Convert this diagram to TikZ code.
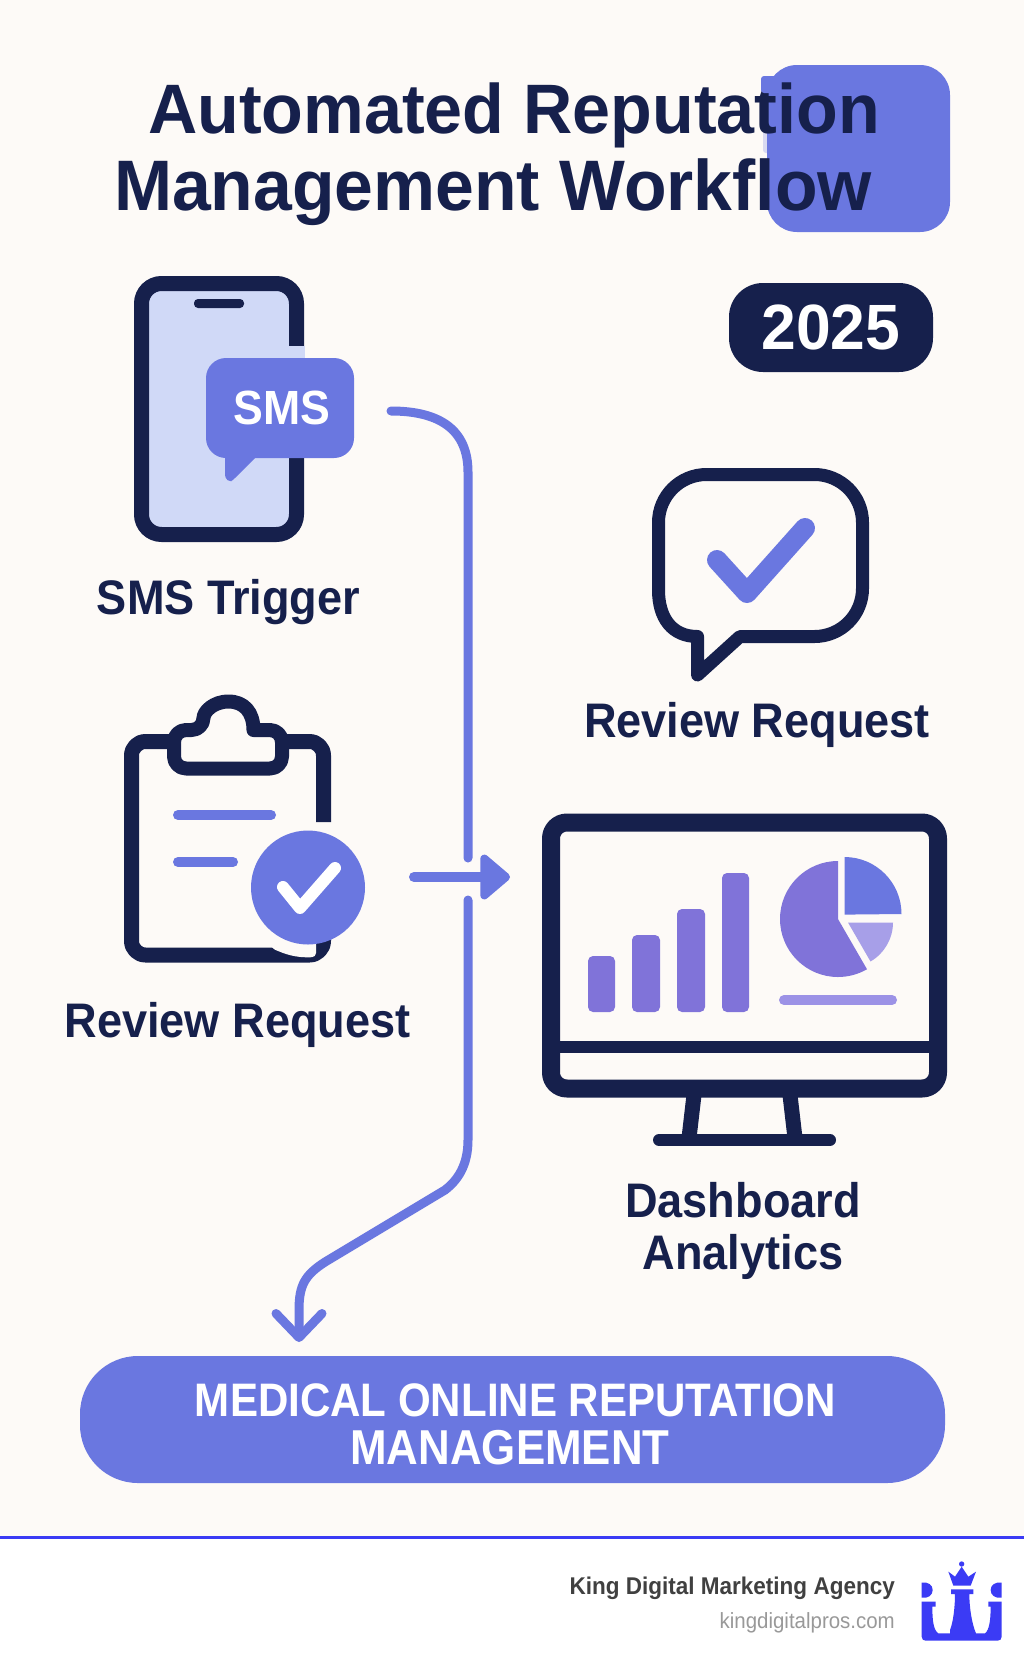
\documentclass[tikz,border=0pt]{standalone}
\usepackage{fontspec}
\setmainfont[FakeStretch=0.93]{Liberation Sans}
\newfontfamily\narrowfont[FakeStretch=0.895]{Liberation Sans}
\newfontfamily\widefont[FakeStretch=0.975]{Liberation Sans}
\usetikzlibrary{arrows.meta,positioning}
\definecolor{pagebg}{HTML}{FDFAF7}
\definecolor{navy}{HTML}{16204C}
\definecolor{accent}{HTML}{6A77E0}
\definecolor{phonefill}{HTML}{D0D9F7}
\definecolor{barcol}{HTML}{8073D9}
\definecolor{pielight}{HTML}{A79FE8}
\definecolor{underbar}{HTML}{9C92E6}
\definecolor{brand}{HTML}{3B3BF5}
\begin{document}
\begin{tikzpicture}[x=1pt,y=-1pt,
  titletext/.style={anchor=base,inner sep=0pt,text=navy,font=\widefont\fontsize{70}{84}\selectfont\bfseries},
  labeltext/.style={anchor=base,inner sep=0pt,text=navy,align=center,font=\fontsize{48.5}{52}\selectfont\bfseries},
  pilltext/.style={anchor=base,inner sep=0pt,text=white,font=\narrowfont\fontsize{47}{52}\selectfont\bfseries},
  iconline/.style={draw=navy,line width=15pt,line join=round},
  softline/.style={draw=accent,line width=10pt,line cap=round},
  flowline/.style={draw=accent,line width=9pt,line cap=round},
  tickline/.style={line cap=round,line join=round},
  bar/.style={fill=barcol,rounded corners=5pt}]
\useasboundingbox (0,0) rectangle (1024,1666);
\fill[pagebg] (0,0) rectangle (1024,1537);
\fill[white] (0,1537) rectangle (1024,1666);
\fill[brand] (0,1536) rectangle (1024,1538.5);

\fill[accent,opacity=0.25,rounded corners=3pt] (763,77) rectangle (770,153);
\fill[accent,rounded corners=30pt] (767,65) rectangle (950,232);
\node[titletext] (titleone) at (514,133) {Automated Reputation};
\node[titletext] (titletwo) at (493,210) {\fontsize{71.5}{84}\selectfont Management Workflow};
\fill[accent,rounded corners=3pt] (761,76) rectangle (777,93);

\node[fill=navy,rounded corners=34pt,text=white,minimum width=204pt,minimum height=89pt,inner sep=0pt,
  font=\widefont\fontsize{64}{64}\selectfont\bfseries] (yearpill) at (831,327.5) {2025};

\draw[iconline,fill=phonefill,rounded corners=20pt] (141.5,283.5) rectangle (296.5,534.5);
\fill[navy,rounded corners=4pt] (194,299) rectangle (244,308);
\fill[phonefill] (288,346) rectangle (304.5,362);
\fill[accent,rounded corners=3pt] (225,450) -- (225,478) -- (230,482) -- (233,480) -- (263,450) -- cycle;
\node[fill=accent,rounded corners=20pt,text=white,minimum width=148pt,minimum height=100pt,inner sep=0pt,
  text depth=0pt,font=\fontsize{48}{48}\selectfont\bfseries] (smsbubble) at (280,408) {\hspace{4pt}SMS};
\node[labeltext] (smslabel) at (228.5,614) {SMS Trigger};

\draw[iconline,line width=13pt] (740,636.5) -- (814.5,636.5) .. controls (841,636.5) and (862.5,615) .. (862.5,588.5) -- (862.5,522.5)
  .. controls (862.5,496) and (841,474.5) .. (814.5,474.5) -- (706.5,474.5) .. controls (680,474.5) and (658.5,496) .. (658.5,522.5)
  -- (658.5,590) .. controls (658.5,618) and (672,636.5) .. (697.5,636.5) -- (697.5,675) -- cycle;
\draw[accent,line width=20pt,tickline] (717,560) -- (747,593) -- (805,528);
\node[labeltext] (reviewlabel) at (757,737) {Review Request};

\draw[iconline,rounded corners=14pt] (323.5,822) -- (323.5,741.5) -- (131.5,741.5) -- (131.5,955) -- (323.5,955) -- (323.5,920);
\fill[pagebg,rounded corners=4pt] (271,948) .. controls (285,954) and (295,958) .. (316,957) -- (316,940) -- (271,940) -- cycle;
\draw[iconline,line width=14pt,fill=pagebg,rounded corners=12pt] (174,768.5) -- (174,730) -- (203.5,730)
  [sharp corners] .. controls (203.5,712) and (213,701.5) .. (228.5,701.5) .. controls (244,701.5) and (253.5,712) .. (253.5,730)
  [rounded corners=12pt] -- (282,730) -- (282,768.5) -- cycle;
\draw[softline] (178,815) -- (271,815);
\draw[softline] (178,862) -- (233,862);
\node[circle,fill=accent,minimum size=114pt,inner sep=0pt] (checkdisc) at (308,887.5) {};
\draw[white,line width=12pt,tickline] (283,887) -- (300,908) -- (335,868);
\node[labeltext] (requestlabel) at (237.5,1037) {Review Request};

\draw[navy,line width=15pt] (694,1095) -- (689,1138);
\draw[navy,line width=15pt] (790,1095) -- (795,1138);
\draw[navy,line width=12pt,line cap=round] (659,1140) -- (830,1140);
\draw[iconline,line width=18pt,fill=pagebg,rounded corners=16pt] (551,822.5) rectangle (938,1088.5);
\draw[navy,line width=12pt] (551,1047) -- (938,1047);
\fill[bar] (588,956) rectangle (615,1012);
\fill[bar] (632,935) rectangle (660,1012);
\fill[bar] (677,909) rectangle (705,1012);
\fill[bar] (722,873) rectangle (749,1012);
\fill[barcol] (838,919) -- (838,861) arc[start angle=-90,delta angle=-210,radius=58] -- cycle;
\fill[accent] (844.5,914.6) -- (844.5,857) arc[start angle=-90,delta angle=90,radius=57] -- cycle;
\fill[pielight] (848,922.5) -- (893,922.5) arc[start angle=0,delta angle=60,radius=45] -- cycle;
\draw[underbar,line width=10pt,line cap=round] (784,1000) -- (892,1000);
\node[labeltext] (dashlabel) at (743,1269) {Dashboard\\Analytics};

\coordinate (flowstart) at (391,411);
\coordinate (flowgapa) at (468,858);
\coordinate (flowgapb) at (468,900);
\coordinate (flowend) at (299,1342);
\coordinate (reqstart) at (414,877);
\coordinate (reqend) at (510,877);
\draw[flowline] (flowstart) .. controls (440,411) and (468,430) .. (468,472) -- (flowgapa);
\draw[flowline,-{Straight Barb[round,length=24pt,width=46pt]}] (flowgapb) -- (468,1140) .. controls (468,1165) and (458,1180) .. (445,1190)
  -- (325,1262) .. controls (305,1275) and (299,1285) .. (299,1310) -- (flowend);
\draw[flowline,line width=10pt,-{Triangle[round,length=32pt,width=52pt]}] (reqstart) -- (reqend);

\node[fill=accent,rounded corners=58pt,minimum width=865pt,minimum height=127pt,inner sep=0pt] (goalbar) at (512.5,1419.5) {};
\node[pilltext] (goalone) at (515.5,1416) {MEDICAL ONLINE REPUTATION};
\node[pilltext] (goaltwo) at (510,1464) {\fontsize{49}{52}\selectfont MANAGEMENT};

\node[anchor=base east,inner sep=0pt,text=black!75,font=\fontsize{24.2}{24.2}\selectfont\bfseries] (brandname) at (895,1594) {King Digital Marketing Agency};
\node[anchor=base east,inner sep=0pt,text=black!40,font=\fontsize{22}{22}\selectfont] (brandurl) at (895,1628) {kingdigitalpros.com};

\begin{scope}[shift={(900,1550)},scale=0.3333]
\fill[brand] (65,155) -- (107,155) -- (107,170) -- (97,170) .. controls (97,210) and (100,240) .. (115,250) -- (150,250) -- (150,240)
  .. controls (160,215) and (165,170) .. (165,132) -- (153,132) -- (153,118) -- (220,118) -- (220,132) -- (208,132)
  .. controls (208,170) and (215,220) .. (228,250) -- (255,250) .. controls (268,240) and (272,210) .. (272,170) -- (265,170) -- (265,155) -- (305,155)
  -- (305,260) .. controls (305,268) and (300,272) .. (293,272) -- (77,272) .. controls (70,272) and (65,268) .. (65,260) -- cycle;
\fill[brand] (145,65) -- (165,80) -- (185,50) -- (205,80) -- (228,65) -- (212,107) -- (160,107) -- cycle;
\fill[brand] (185,42) circle[radius=8];
\fill[brand] (65,98) .. controls (85,95) and (98,105) .. (98,120) .. controls (98,135) and (85,146) .. (65,143) -- cycle;
\fill[brand] (305,98) .. controls (285,95) and (272,105) .. (272,120) .. controls (272,135) and (285,146) .. (305,143) -- cycle;
\end{scope}
\end{tikzpicture}
\end{document}
